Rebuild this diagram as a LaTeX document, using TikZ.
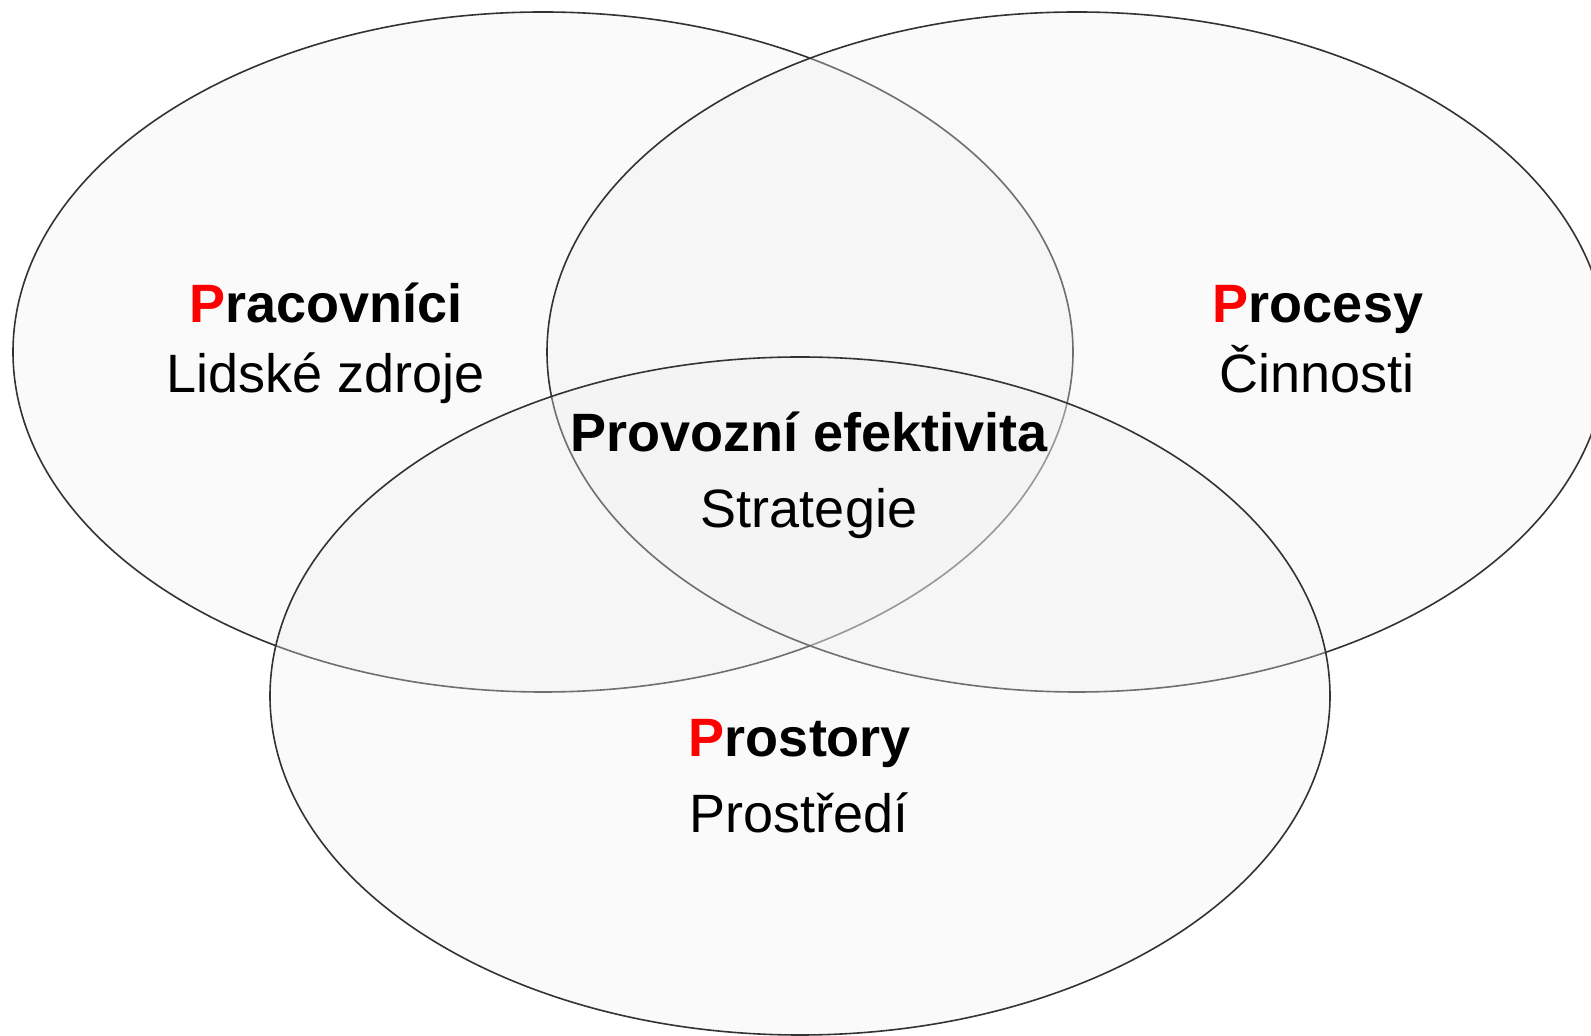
\documentclass[tikz,border=0pt]{standalone}
\usepackage{fontspec}
\setmainfont{Liberation Sans}
\definecolor{rimgray}{HTML}{333333}
\definecolor{setfill}{HTML}{F0F0F0}
\definecolor{pred}{HTML}{FF0000}
\tikzset{
  vennset/.style={draw=rimgray, line width=0.8pt, fill=setfill, fill opacity=0.32},
  headline/.style={anchor=base, inner sep=0pt, font=\fontsize{27}{32}\selectfont\bfseries},
  subline/.style={anchor=base, inner sep=0pt, font=\fontsize{27}{32}\selectfont},
}
\newcommand{\redP}{\textcolor{pred}{P}}
\begin{document}
\begin{tikzpicture}[x=0.5pt,y=-0.5pt]
  \useasboundingbox (0,0) rectangle (1591,1036);
  \clip (0,0) rectangle (1591,1036);
  \fill[white] (0,0) rectangle (1591,1036);

  % the three sets
  \path[vennset] (543,352) ellipse [x radius=265pt, y radius=170pt];
  \path[vennset] (1077,352) ellipse [x radius=265pt, y radius=170pt];
  \path[vennset] (800,696) ellipse [x radius=265pt, y radius=169.5pt];

  % labels of the sets
  \node[headline] (pracovnici) at (326,323) {\redP racovníci};
  \node[subline]  (lidske)     at (326,393) {Lidské zdroje};

  \node[headline] (procesy)    at (1318,323) {\redP rocesy};
  \node[subline]  (cinnosti)   at (1317,393) {Činnosti};

  \node[headline] (provozni)   at (809,452) {Provozní efektivita};
  \node[subline]  (strategie)  at (809,528) {Strategie};

  \node[headline] (prostory)   at (800,757) {\redP rostory};
  \node[subline]  (prostredi)  at (799,833) {Prostředí};
\end{tikzpicture}
\end{document}
